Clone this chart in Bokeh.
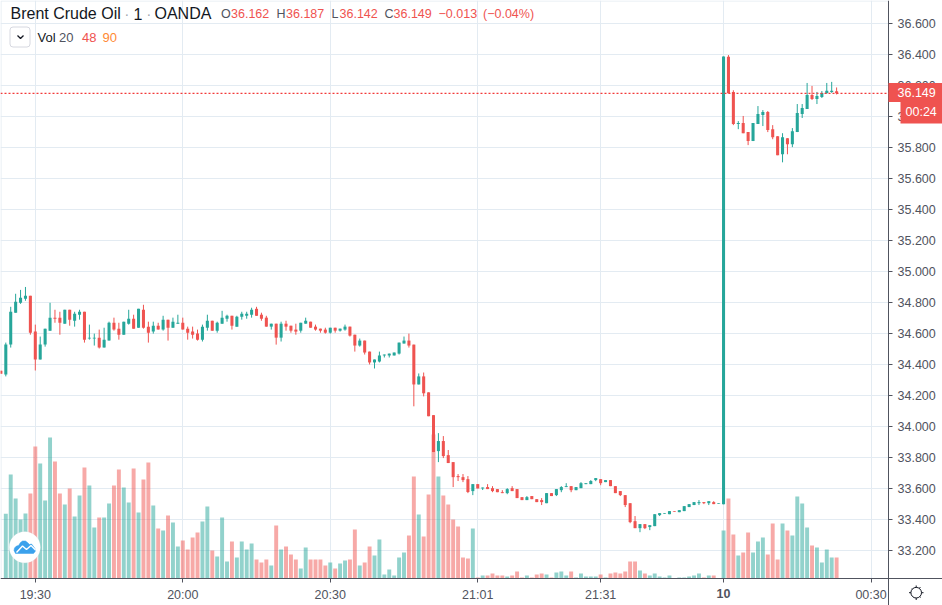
from bokeh.embed import file_html
from bokeh.resources import INLINE
from bokeh.plotting import figure
from bokeh.models import (ColumnDataSource, Range1d, FixedTicker, Label, Span, NumeralTickFormatter)

opens = [34.36,34.336,34.528,34.734,34.798,34.824,34.843,34.612,34.432,34.528,34.618,34.702,34.702,34.663,34.753,34.682,34.721,34.74,34.567,34.567,
34.573,34.509,34.554,34.669,34.631,34.592,34.663,34.695,34.637,34.753,34.644,34.612,34.65,34.625,34.689,34.637,34.663,34.669,34.631,34.612,
34.599,34.56,34.637,34.682,34.618,34.663,34.695,34.714,34.644,34.708,34.714,34.721,34.759,34.721,34.702,34.644,34.663,34.573,34.663,34.65,
34.625,34.618,34.663,34.676,34.644,34.631,34.625,34.605,34.637,34.618,34.625,34.644,34.592,34.522,34.554,34.483,34.413,34.419,34.458,34.458,
34.458,34.47,34.535,34.554,34.528,34.271,34.323,34.22,34.073,33.841,33.906,33.815,33.77,33.68,33.673,33.66,33.583,33.628,33.60,33.609,
33.602,33.596,33.576,33.57,33.602,33.596,33.544,33.525,33.551,33.531,33.525,33.505,33.57,33.557,33.589,33.609,33.615,33.589,33.602,33.628,
33.628,33.654,33.66,33.641,33.654,33.615,33.583,33.557,33.505,33.389,33.344,33.37,33.351,33.357,33.428,33.437,33.434,33.454,33.447,33.454,
33.48,33.493,33.505,33.512,33.505,33.512,33.501,33.498,36.385,36.158,35.951,35.957,35.899,35.841,35.951,36.009,36.028,35.918,35.873,35.756,
35.86,35.821,35.899,36.016,36.048,36.139,36.113,36.126,36.152,36.158,36.162]
highs = [34.36,34.541,34.772,34.856,34.881,34.90,34.843,34.657,34.58,34.631,34.798,34.753,34.74,34.753,34.753,34.74,34.753,34.74,34.657,34.599,
34.625,34.637,34.676,34.702,34.669,34.676,34.753,34.721,34.759,34.785,34.676,34.676,34.669,34.714,34.689,34.702,34.721,34.702,34.644,34.644,
34.625,34.657,34.721,34.682,34.676,34.746,34.721,34.714,34.714,34.74,34.74,34.766,34.772,34.734,34.714,34.663,34.663,34.676,34.682,34.65,
34.663,34.669,34.702,34.676,34.657,34.631,34.637,34.637,34.637,34.631,34.657,34.644,34.592,34.567,34.554,34.483,34.432,34.483,34.464,34.47,
34.477,34.541,34.58,34.599,34.528,34.342,34.348,34.22,34.073,33.957,33.938,33.848,33.77,33.693,33.693,33.68,33.628,33.628,33.606,33.628,
33.615,33.596,33.589,33.602,33.615,33.596,33.544,33.551,33.551,33.531,33.538,33.57,33.57,33.596,33.615,33.634,33.615,33.609,33.641,33.634,
33.654,33.667,33.66,33.654,33.654,33.615,33.583,33.557,33.505,33.422,33.37,33.37,33.363,33.434,33.441,33.441,33.454,33.454,33.46,33.486,
33.499,33.512,33.525,33.512,33.518,33.518,33.505,36.387,36.396,36.169,35.97,36.003,35.899,35.957,36.067,36.041,36.035,35.944,35.873,35.892,
35.86,35.925,36.08,36.08,36.216,36.197,36.158,36.164,36.216,36.223,36.187]
lows = [34.34,34.323,34.509,34.734,34.791,34.811,34.592,34.361,34.432,34.515,34.618,34.669,34.592,34.663,34.65,34.644,34.689,34.541,34.56,34.522,
34.503,34.509,34.554,34.618,34.56,34.592,34.657,34.631,34.637,34.631,34.541,34.599,34.625,34.618,34.554,34.637,34.663,34.625,34.56,34.567,
34.554,34.548,34.618,34.618,34.605,34.663,34.676,34.625,34.644,34.689,34.695,34.702,34.714,34.682,34.644,34.625,34.528,34.548,34.618,34.605,
34.592,34.605,34.663,34.637,34.618,34.605,34.599,34.599,34.605,34.612,34.618,34.58,34.483,34.515,34.464,34.40,34.374,34.413,34.445,34.445,
34.458,34.464,34.535,34.509,34.13,34.271,34.194,34.066,33.835,33.77,33.796,33.764,33.609,33.648,33.641,33.57,33.557,33.60,33.59,33.596,
33.576,33.576,33.57,33.563,33.583,33.538,33.525,33.525,33.531,33.512,33.493,33.505,33.551,33.551,33.576,33.609,33.576,33.589,33.602,33.628,
33.628,33.647,33.621,33.641,33.615,33.57,33.551,33.48,33.376,33.344,33.318,33.338,33.331,33.357,33.422,33.437,33.434,33.45,33.447,33.454,
33.48,33.493,33.493,33.499,33.493,33.499,33.501,33.498,36.149,35.944,35.918,35.892,35.815,35.841,35.951,35.938,35.899,35.853,35.75,35.704,
35.756,35.802,35.899,35.99,36.048,36.106,36.08,36.119,36.145,36.152,36.142]
closes = [34.34,34.528,34.74,34.804,34.83,34.843,34.605,34.432,34.528,34.631,34.702,34.695,34.669,34.753,34.689,34.727,34.74,34.56,34.573,34.573,
34.509,34.56,34.669,34.625,34.592,34.676,34.695,34.631,34.759,34.637,34.605,34.65,34.625,34.689,34.637,34.676,34.669,34.625,34.605,34.592,
34.56,34.644,34.682,34.618,34.669,34.702,34.714,34.65,34.708,34.727,34.727,34.753,34.714,34.695,34.644,34.663,34.573,34.663,34.644,34.618,
34.612,34.669,34.682,34.637,34.625,34.618,34.605,34.637,34.618,34.631,34.644,34.586,34.522,34.554,34.477,34.413,34.432,34.458,34.464,34.47,
34.477,34.541,34.554,34.522,34.271,34.323,34.214,34.066,33.835,33.906,33.809,33.764,33.673,33.673,33.654,33.577,33.628,33.60,33.606,33.596,
33.583,33.576,33.57,33.596,33.583,33.538,33.525,33.544,33.531,33.512,33.512,33.57,33.551,33.596,33.609,33.615,33.589,33.609,33.634,33.634,
33.648,33.667,33.634,33.654,33.615,33.57,33.557,33.493,33.383,33.344,33.37,33.344,33.363,33.434,33.441,33.441,33.454,33.45,33.46,33.486,
33.499,33.512,33.512,33.505,33.518,33.499,33.505,36.387,36.149,35.951,35.957,35.892,35.841,35.957,36.016,36.028,35.912,35.866,35.75,35.866,
35.821,35.905,36.022,36.054,36.139,36.113,36.132,36.152,36.165,36.165,36.149]
volumes = [0,194,312,240,177,195,255,396,345,234,423,351,255,222,270,186,249,333,279,153,
183,183,225,279,327,273,228,330,198,297,348,219,150,144,189,168,96,114,87,123,
138,171,216,84,66,183,51,111,63,111,87,105,57,48,57,39,159,87,96,72,
57,30,93,57,57,57,39,48,30,45,54,57,147,39,48,96,69,117,12,27,
9,63,78,129,306,192,126,252,432,306,249,222,177,156,63,60,150,3,9,9,
15,9,9,6,9,21,3,9,3,12,15,12,3,18,21,9,21,3,15,6,
6,6,12,3,15,18,15,21,51,51,24,15,9,15,6,3,9,1,3,3,
6,9,15,3,9,9,1,144,240,132,69,78,138,78,111,123,72,165,57,165,
144,129,246,225,153,99,93,48,87,63,63]
first_bar = -7
price_ticks = [33.2,33.4,33.6,33.8,34.0,34.2,34.4,34.6,34.8,35.0,35.2,35.4,35.6,35.8,36.0,36.2,36.4,36.6]
time_tick_bars = [0,30,60,90,115,140,170]
time_tick_labels = ["19:30","20:00","20:30","21:01","21:31","","00:30"]
day_tick_bar = 140
day_tick_label = "10"
last_price = 36.149
last_price_text = "36.149"
countdown_text = "00:24"
assert len(opens)==len(highs)==len(lows)==len(closes)==len(volumes)==171

TEAL, RED = "#26a69a", "#ef5350"
GRID = "#e3ebf2"
TXT = "#50535e"
FONT = "Liberation Sans"

bars = list(range(first_bar, first_bar+len(opens)))
up = [c >= o for o, c in zip(opens, closes)]
src = ColumnDataSource(dict(
    x=bars, open=opens, high=highs, low=lows, close=closes, volume=volumes,
    top=[max(o, c) for o, c in zip(opens, closes)],
    bottom=[min(o, c) for o, c in zip(opens, closes)],
    color=[TEAL if u else RED for u in up],
))

# the frame fills the page; the two axes are pinned inside it at the edge of the pane
BAR_AT_AXIS = 173.56
PRICE_AT_AXIS = 33.019
p = figure(width=942, height=605, output_backend="svg", toolbar_location=None,
           y_axis_location="right",
           x_range=Range1d(-7.079, 184.54), y_range=Range1d(32.845, 36.748),
           min_border_left=0, min_border_top=0, min_border_right=0, min_border_bottom=0)
p.background_fill_color = "white"
p.border_fill_color = "white"
p.outline_line_color = None

p.extra_y_ranges = {"vol": Range1d(-81, 1734), "py": Range1d(605, 0)}
p.extra_x_ranges = {"px": Range1d(0, 942)}
PX = dict(x_range_name="px", y_range_name="py")

p.xaxis[0].fixed_location = PRICE_AT_AXIS
p.yaxis[0].fixed_location = BAR_AT_AXIS
for ax in (p.xaxis[0], p.yaxis[0]):
    ax.axis_line_color = TXT
    ax.axis_line_width = 1
    ax.major_tick_line_color = TXT
    ax.major_tick_out = 4
    ax.major_tick_in = 0
    ax.minor_tick_line_color = None
    ax.major_label_text_color = TXT
    ax.major_label_text_font = FONT
    ax.major_label_text_font_size = "12.5px"
p.xaxis[0].ticker = FixedTicker(ticks=time_tick_bars)
p.xaxis[0].major_label_overrides = {b: t for b, t in zip(time_tick_bars, time_tick_labels)}
p.xaxis[0].major_label_standoff = 5
p.yaxis[0].ticker = FixedTicker(ticks=price_ticks)
p.yaxis[0].formatter = NumeralTickFormatter(format="0.000")
p.yaxis[0].major_label_standoff = 5

p.xgrid[0].ticker = FixedTicker(ticks=time_tick_bars)
p.ygrid[0].ticker = FixedTicker(ticks=price_ticks)
p.xgrid[0].grid_line_color = GRID
p.ygrid[0].grid_line_color = GRID

# white strips hide the grid under the two scales
p.quad(left=[888, 0], right=[942, 942], top=[0, 578], bottom=[605, 605], fill_color="white", line_color=None, **PX)
p.line([0.5, 0.5, 888], [578, 0.5, 0.5], line_color=GRID, line_width=1, **PX)

p.vbar(x="x", width=0.8, top="volume", bottom=0, source=src, y_range_name="vol",
       fill_color="color", fill_alpha=0.5, line_color=None)
p.segment(x0="x", x1="x", y0="low", y1="high", source=src, line_color="color", line_width=1)
p.vbar(x="x", width=0.62, top="top", bottom="bottom", source=src,
       fill_color="color", line_color=None)

p.add_layout(Span(location=last_price, dimension="width", line_color="#f23a3a",
                  line_dash=[2, 2], line_width=1.2))

def txt(x, y, text, color=TXT, size="12.5px", style="normal", align="left", font=FONT, **kw):
    p.add_layout(Label(x=x, y=y, text=text, text_color=color, text_font=font, text_font_size=size,
                       text_font_style=style, text_baseline="middle", text_align=align, **PX, **kw))

# header
txt(10, 13, "Brent Crude Oil", "#131722", "16px")
txt(133, 13, "1", "#131722", "16px")
txt(154, 13, "OANDA", "#131722", "16px")
txt(124, 13, "·", "#a0a4ae", "14px")
txt(146, 13, "·", "#a0a4ae", "14px")
for lx, lab, vx, val in [(220.5, "O", 230.5, "36.162"), (276, "H", 285.5, "36.187"),
                         (331, "L", 339, "36.142"), (384, "C", 393, "36.149")]:
    txt(lx, 13, lab)
    txt(vx, 13, val, RED)
txt(438, 13, "\u22120.013", RED)
txt(482.5, 13, "(\u22120.04%)", RED)
txt(37, 37, "Vol", "#131722", "13px")
txt(58.5, 37, "20", TXT, "13px")
txt(81.5, 37, "48", RED, "13px")
txt(102, 37, "90", "#ff8a33", "13px")

# collapse button
p.quad(left=[9.5], right=[29.5], top=[26.5], bottom=[46.5], fill_color="white", line_color="#d6d8e0",
       border_radius=3, **PX)
p.line([17, 20, 23], [35, 38, 35], line_color="#131722", line_width=1.3, **PX)

# logo
p.circle(x=[24.3], y=[546.7], radius=16, fill_color="#dfe3e6", fill_alpha=0.45, line_color=None, **PX)
p.circle(x=[24.3], y=[546.7], radius=15.5, fill_color="white", line_color=None, **PX)
cloud_x = [13.5, 14, 16, 18, 20, 22, 25, 27, 29, 31, 33, 34.7, 34.7, 33, 15]
cloud_y = [550, 547.5, 545.5, 545, 542, 540.5, 540.5, 542, 544, 543.5, 546, 548.5, 551, 553, 553]
p.patch(cloud_x, cloud_y, fill_color="#3ba1ec", line_color="#3ba1ec", line_width=0.5, **PX)
p.line([16, 22, 26, 30.5, 35], [552, 545.5, 549, 545, 549.5], line_color="white", line_width=1.4, **PX)

# price tags
txt(888, 92, last_price_text, "white", background_fill_color=RED,
    padding=dict(left=9, right=8, top=5, bottom=5))
txt(900, 111, countdown_text, "white", background_fill_color=RED,
    padding=dict(left=5, right=8, top=5, bottom=5))
# bold day label on the time scale
txt(723, 593, day_tick_label, TXT, style="bold", align="center")

# settings icon
p.segment(x0=[915.7, 915.7, 908.5, 918.7, 911.5, 918.5, 911.5, 918.5],
          y0=[585, 595.5, 592.2, 592.2, 588, 595, 595, 588],
          x1=[915.7, 915.7, 912.7, 923, 913.5, 920, 913.5, 920],
          y1=[589, 599.5, 592.2, 592.2, 590, 597, 597, 586.5],
          line_color="#131722", line_width=1, **PX)
p.circle(x=[915.7], y=[592.2], radius=5.3, fill_color="white", line_color="#131722", line_width=1, **PX)

open("out.html", "w").write(file_html(p, INLINE))
